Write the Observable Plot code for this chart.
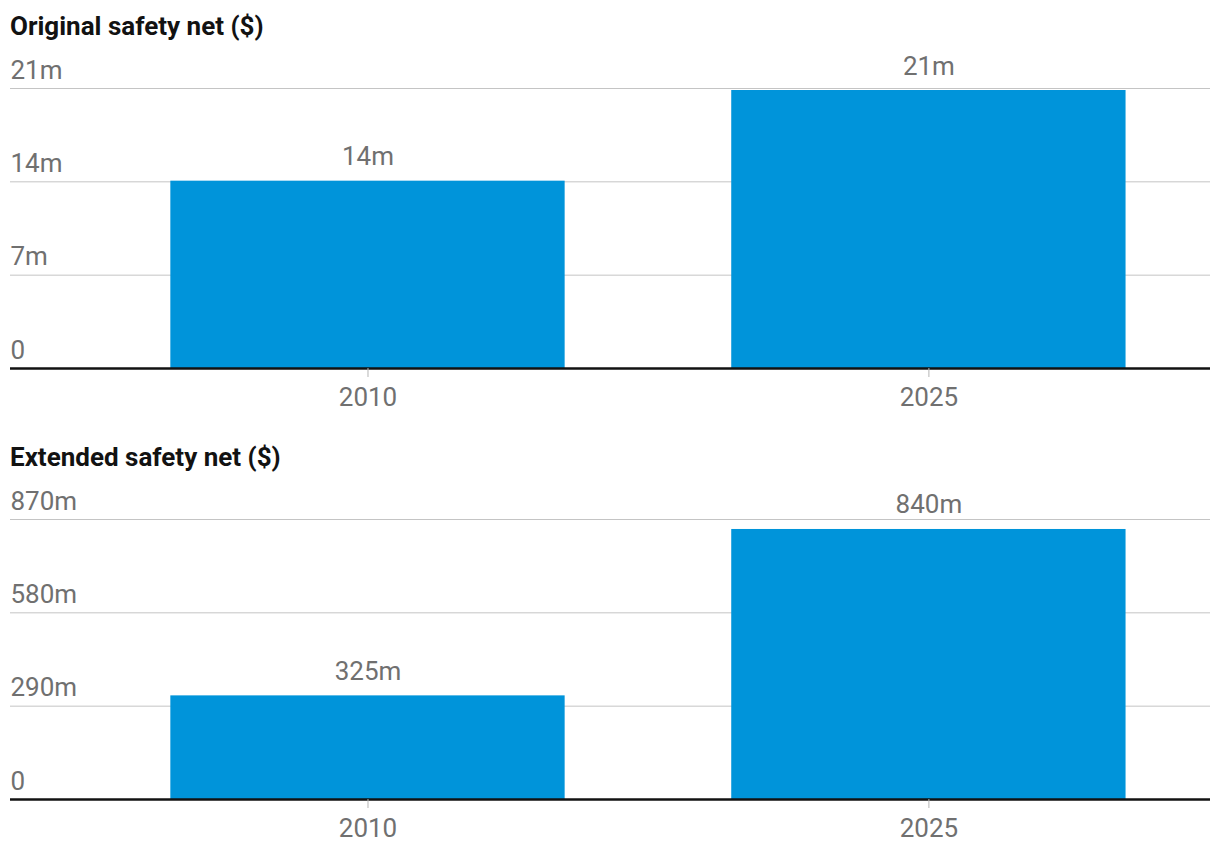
<!DOCTYPE html>
<html>
<head>
<meta charset="utf-8">
<script src="https://cdn.jsdelivr.net/npm/d3@7"></script>
<script src="https://cdn.jsdelivr.net/npm/@observablehq/plot@0.6"></script>
<style>
  html, body { margin: 0; padding: 0; background: #fff; overflow: hidden; }
  .panel { height: 431px; }
  .title {
    font-family: Roboto, sans-serif; font-weight: 700; font-size: 26px;
    line-height: 26px; height: 26px; padding: 13px 0 0 10px; margin-bottom: 6px;
    color: #121212;
  }
  svg { display: block; }
</style>
</head>
<body>
<div id="chart"></div>
<script>
const years = ["2010", "2025"];

const originalTitle = "Original safety net ($)";
const originalValues = [14.05, 20.85];
const originalLabels = ["14m", "21m"];
const originalTicks = [0, 7, 14, 21];
const originalTickLabels = ["0", "7m", "14m", "21m"];

const extendedTitle = "Extended safety net ($)";
const extendedValues = [322, 839];
const extendedLabels = ["325m", "840m"];
const extendedTicks = [0, 290, 580, 870];
const extendedTickLabels = ["0", "290m", "580m", "870m"];

function panel(title, values, labels, ticks, tickLabels) {
  const data = years.map((y, i) => ({year: y, value: values[i], label: labels[i]}));
  const tickData = ticks.map((t, i) => ({t, label: tickLabels[i]}));
  const wrap = document.createElement("div");
  wrap.className = "panel";
  const h = document.createElement("div");
  h.className = "title";
  h.textContent = title;
  wrap.appendChild(h);
  const chart = Plot.plot({
    width: 1220,
    height: 386,
    marginTop: 43,
    marginBottom: 63,
    marginLeft: 10,
    marginRight: 10,
    style: {fontFamily: "Roboto, sans-serif", fontSize: "26px", color: "#707070", background: "white"},
    x: {domain: years, paddingInner: 0.297, paddingOuter: 0.2182, align: 0.655, round: false, axis: null, label: null},
    y: {domain: [0, d3.max(ticks)], axis: null},
    marks: [
      Plot.ruleY(ticks.filter(t => t > 0), {stroke: "#c4c4c4", strokeWidth: 1}),
      Plot.barY(data, {x: "year", y: "value", fill: "#0094da"}),
      Plot.ruleY([0], {stroke: "#121212", strokeWidth: 2.5}),
      Plot.axisX({tickSize: 9, tickPadding: 10, stroke: "#b5b5b5", fill: "#707070", fontSize: 26, label: null}),
      Plot.text(tickData, {y: "t", text: "label", frameAnchor: "left", textAnchor: "start", lineAnchor: "bottom", dy: -10, fill: "#707070", fontSize: 26}),
      Plot.text(data, {x: "year", y: "value", text: "label", lineAnchor: "bottom", dy: -16, fill: "#707070", fontSize: 26})
    ]
  });
  wrap.appendChild(chart);
  return wrap;
}

const root = document.getElementById("chart");
root.appendChild(panel(originalTitle, originalValues, originalLabels, originalTicks, originalTickLabels));
root.appendChild(panel(extendedTitle, extendedValues, extendedLabels, extendedTicks, extendedTickLabels));
</script>
</body>
</html>
